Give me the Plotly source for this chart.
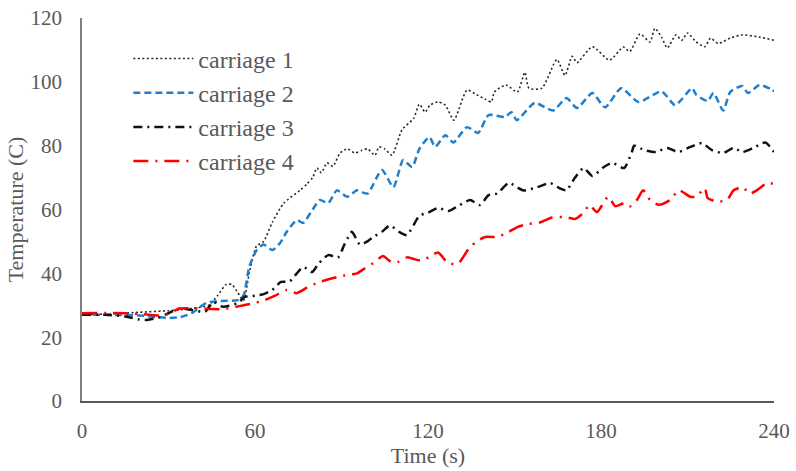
import plotly.graph_objects as go

# Carriage temperature histories (time in s, temperature in C)
t_c1 = [0, 10, 20, 30, 38, 44, 47, 50, 52, 54, 56, 58, 60.5, 63, 66, 70, 75.6, 78, 80, 81.5, 83, 85, 87,
        89.5, 92, 94.7, 97, 99, 101.6, 103, 105, 107.5, 111, 115, 117, 119, 120.7, 123.5, 126, 129,
        133.5, 137, 140, 142, 143, 147, 151, 153.6, 155, 159.5, 164.7, 167.5, 170, 171.7, 177, 183,
        187.7, 190, 193.5, 197, 198.7, 201, 203, 206, 208, 210, 213, 216, 218, 220.6, 224.8, 229, 235, 240]
temp_c1 = [27, 27.3, 27.8, 28.3, 29, 30, 33, 36.5, 36.5, 34, 31.5, 40, 48.5, 50, 56, 62, 66, 68, 70, 73, 71.5,
           74.6, 73.5, 77.7, 79, 77.7, 78.5, 79, 77, 79.6, 79, 77, 85, 88.5, 93, 90.5, 92.7, 93.7, 92.7, 88,
           97.4, 95.9, 94.5, 93.7, 96.8, 99, 96.8, 103, 98, 98, 107, 102, 108, 106, 111, 106.8,
           110.9, 109.5, 115, 112.5, 116.8, 114, 110.6, 114.7, 113, 115.3, 112.5, 111, 113.7, 112, 113.7, 114.7, 114, 113]

t_c2 = [0, 10, 20, 26, 30, 34, 38, 43, 47, 54, 56, 58, 60.6, 63, 66, 68.7, 71, 74.5, 76.7, 80, 82.5, 85.4,
        88.4, 92, 95.4, 99, 104, 108, 111.4, 114.5, 117, 120.5, 122.5, 126, 128.8, 133.5, 137.4, 141,
        146.7, 149, 150.8, 157, 163.4, 168, 171.7, 177, 181.4, 187, 193, 201, 205.7, 211.6, 213, 217,
        219, 222.4, 224.8, 229, 231, 235, 239, 240]
temp_c2 = [27, 27, 26.8, 26.3, 26, 26.3, 27.5, 30.7, 31.3, 31.6, 33, 42, 47.3, 49, 47.3, 49.5, 53, 56.7, 55.8,
           60, 63, 62, 66, 64, 66, 65, 72.4, 67, 75.5, 73.3, 79, 82.7, 79.6, 83.3, 81, 85.8, 84, 89.6,
           89, 90.5, 88, 93.4, 91, 94.9, 91.8, 96.5, 92, 98, 93.7, 97, 92.7, 98, 96, 94,
           96.5, 91, 96.8, 98.7, 96.5, 99, 97.7, 97]

t_c3 = [0, 8, 15, 20, 22.5, 26, 30, 34, 38, 42.7, 45.5, 49, 54, 56.5, 60, 63, 66, 69, 72, 76.7, 79.8, 82,
        85.4, 88.8, 91, 93.6, 96.4, 99, 101, 104, 106.8, 110, 112.7, 117, 120, 123.5, 127, 131, 134.6,
        138, 141, 144, 148, 153, 158, 162.3, 166, 168, 171, 174, 177, 181, 184, 188, 190.7, 191.5, 195,
        199, 203, 206.7, 211, 215, 218.5, 222.4, 226, 229, 232.8, 237, 240]
temp_c3 = [27, 27, 26.5, 25.5, 25.4, 26, 27.5, 29, 28.5, 28, 31, 29.5, 30.7, 32.6, 33, 33.5, 34.8, 37.3, 37.5,
           42, 40.4, 43, 45.7, 45, 49, 53, 49, 50, 51.4, 53, 55, 53, 52, 58, 59, 60.5, 59.5, 61.4, 63,
           61.4, 64.5, 65, 68.3, 66, 67, 68.3, 66.5, 66, 70, 73, 70.5, 73.3, 74.6, 73, 78, 80, 78.6,
           78, 79.3, 78, 79.6, 80.8, 78.6, 77.7, 79.3, 78, 79.3, 81, 78]

t_c4 = [0, 10, 20, 28, 34, 40, 45, 49, 55, 59, 63, 67, 71, 74.5, 78, 81.5, 85, 88.4, 92, 95.4, 98, 101,
        104.4, 106.5, 108.6, 112.7, 115, 118, 121, 123.5, 126.6, 128, 130.4, 134.6, 137, 139.8, 144,
        148, 151, 155, 159, 163, 168, 171, 174, 176, 178.6, 182.5, 185, 188, 190, 192.5, 194.6, 197,
        200, 204, 207, 211, 213, 216, 217, 220, 223.7, 226, 229, 231.7, 234, 237.6, 240]
temp_c4 = [27.5, 27.6, 27.3, 26.8, 29, 29, 28.8, 28.8, 29.8, 30.5, 31.5, 33, 34.8, 33.8, 35.5, 37, 38, 38.8,
           39.5, 40, 41.5, 43.2, 45.4, 44, 43.2, 45, 44.5, 44, 45.5, 46.5, 43.5, 43, 43, 48.3, 50, 51.4,
           51.4, 53, 54.5, 55.5, 56, 57.5, 57.6, 57, 59, 61.4, 59.2, 64, 61, 62, 61, 63, 66, 63,
           61.5, 63, 66, 64, 64, 66.7, 63.6, 62.5, 63, 66, 67, 65, 66, 68.3, 68]

series_names = ["carriage 1", "carriage 2", "carriage 3", "carriage 4"]
x_ticks = [0, 60, 120, 180, 240]
y_ticks = [0, 20, 40, 60, 80, 100, 120]

FONT = "Times New Roman, Liberation Serif, serif"
TEXT_GREY = "#595959"

styles = [
    dict(color="#262626", width=1.6, dash="2px,2.5px"),
    dict(color="#1f7fcc", width=2.5, dash="7px,4px"),
    dict(color="#111111", width=2.5, dash="9px,5px,2px,5px"),
    dict(color="#ff0000", width=2.5, dash="15px,7px,2px,7px"),
]

fig = go.Figure()
for name, xs, ys, st in zip(series_names, [t_c1, t_c2, t_c3, t_c4],
                            [temp_c1, temp_c2, temp_c3, temp_c4], styles):
    fig.add_trace(go.Scatter(
        x=xs, y=ys, name=name, mode="lines",
        line=dict(shape="spline", smoothing=0.6, **st),
    ))

fig.update_layout(
    width=796, height=471,
    margin=dict(l=82, r=22, t=18, b=70),
    paper_bgcolor="white", plot_bgcolor="white",
    font=dict(family=FONT, size=21, color=TEXT_GREY),
    showlegend=True,
    legend=dict(
        x=0.067, y=0.952, xanchor="left", yanchor="top",
        bgcolor="rgba(0,0,0,0)", font=dict(family=FONT, size=24, color=TEXT_GREY),
        itemwidth=60, tracegroupgap=0,
    ),
    xaxis=dict(
        range=[0, 240], tickvals=x_ticks, showgrid=False, zeroline=False,
        showline=True, linecolor="#595959", linewidth=1.5, ticks="",
        ticklabelstandoff=10, automargin=False,
        title=dict(text="Time (s)", standoff=2, font=dict(family=FONT, size=22, color=TEXT_GREY)),
    ),
    yaxis=dict(
        range=[0, 120], tickvals=y_ticks, showgrid=False, zeroline=False,
        showline=True, linecolor="#7f7f7f", linewidth=1.5, ticks="",
        ticklabelstandoff=14, automargin=False,
        title=dict(text="Temperature (C)", standoff=1, font=dict(family=FONT, size=22, color=TEXT_GREY)),
    ),
)

fig.write_html("out.html")
